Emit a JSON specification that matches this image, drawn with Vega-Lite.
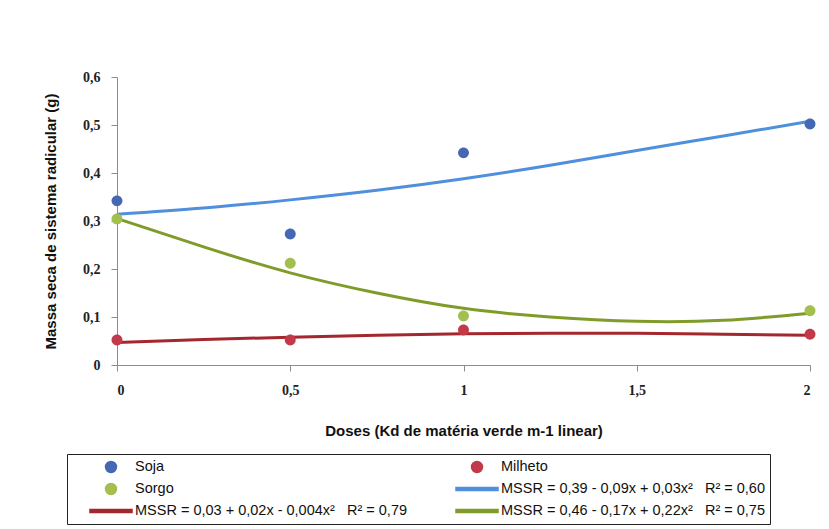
{
  "$schema": "https://vega.github.io/schema/vega-lite/v6.json",
  "width": 693,
  "height": 288,
  "autosize": {"type": "none"},
  "padding": {"left": 117, "top": 77, "right": 19, "bottom": 164},
  "background": "white",
  "config": {
    "view": {"stroke": null},
    "font": "Liberation Sans",
    "axis": {
      "grid": false,
      "domainColor": "#8c8c8c", "tickColor": "#8c8c8c", "tickSize": 6,
      "labelFont": "Liberation Serif", "labelFontWeight": "bold", "labelFontSize": 14, "labelColor": "#222222",
      "titleFont": "Liberation Sans", "titleFontSize": 15, "titleFontWeight": "bold", "titleColor": "#111111"
    },
    "legend": {
      "orient": "none",
      "legendX": -50,
      "legendY": 377,
      "columns": 2,
      "columnPadding": 30,
      "rowPadding": 6,
      "clipHeight": 16,
      "padding": 5,
      "strokeColor": "#222222",
      "fillColor": "white",
      "symbolSize": 1764,
      "symbolOffset": 17,
      "labelOffset": 2,
      "labelFont": "Liberation Sans",
      "labelFontSize": 14.5,
      "labelColor": "#111111",
      "labelLimit": 400,
      "symbolOpacity": 1
    }
  },
  "datasets": {
    "pts": [
      {"dose": 0, "mass": 0.342, "series": "Soja"},
      {"dose": 0.5, "mass": 0.273, "series": "Soja"},
      {"dose": 1, "mass": 0.442, "series": "Soja"},
      {"dose": 2, "mass": 0.502, "series": "Soja"},
      {"dose": 0, "mass": 0.052, "series": "Milheto"},
      {"dose": 0.5, "mass": 0.052, "series": "Milheto"},
      {"dose": 1, "mass": 0.073, "series": "Milheto"},
      {"dose": 2, "mass": 0.064, "series": "Milheto"},
      {"dose": 0, "mass": 0.304, "series": "Sorgo"},
      {"dose": 0.5, "mass": 0.212, "series": "Sorgo"},
      {"dose": 1, "mass": 0.102, "series": "Sorgo"},
      {"dose": 2, "mass": 0.113, "series": "Sorgo"}
    ],
    "curves": [
      {"dose": 0, "mass": 0.314, "series": "MSSR = 0,39 - 0,09x + 0,03x²\u00a0\u00a0\u00a0R² = 0,60"},
      {"dose": 0.25, "mass": 0.327, "series": "MSSR = 0,39 - 0,09x + 0,03x²\u00a0\u00a0\u00a0R² = 0,60"},
      {"dose": 0.5, "mass": 0.344, "series": "MSSR = 0,39 - 0,09x + 0,03x²\u00a0\u00a0\u00a0R² = 0,60"},
      {"dose": 0.75, "mass": 0.364, "series": "MSSR = 0,39 - 0,09x + 0,03x²\u00a0\u00a0\u00a0R² = 0,60"},
      {"dose": 1, "mass": 0.388, "series": "MSSR = 0,39 - 0,09x + 0,03x²\u00a0\u00a0\u00a0R² = 0,60"},
      {"dose": 1.25, "mass": 0.416, "series": "MSSR = 0,39 - 0,09x + 0,03x²\u00a0\u00a0\u00a0R² = 0,60"},
      {"dose": 1.5, "mass": 0.447, "series": "MSSR = 0,39 - 0,09x + 0,03x²\u00a0\u00a0\u00a0R² = 0,60"},
      {"dose": 1.75, "mass": 0.477, "series": "MSSR = 0,39 - 0,09x + 0,03x²\u00a0\u00a0\u00a0R² = 0,60"},
      {"dose": 2, "mass": 0.508, "series": "MSSR = 0,39 - 0,09x + 0,03x²\u00a0\u00a0\u00a0R² = 0,60"},
      {"dose": 0, "mass": 0.047, "series": "MSSR = 0,03 + 0,02x - 0,004x²\u00a0\u00a0\u00a0R² = 0,79"},
      {"dose": 0.25, "mass": 0.053, "series": "MSSR = 0,03 + 0,02x - 0,004x²\u00a0\u00a0\u00a0R² = 0,79"},
      {"dose": 0.5, "mass": 0.058, "series": "MSSR = 0,03 + 0,02x - 0,004x²\u00a0\u00a0\u00a0R² = 0,79"},
      {"dose": 0.75, "mass": 0.062, "series": "MSSR = 0,03 + 0,02x - 0,004x²\u00a0\u00a0\u00a0R² = 0,79"},
      {"dose": 1, "mass": 0.065, "series": "MSSR = 0,03 + 0,02x - 0,004x²\u00a0\u00a0\u00a0R² = 0,79"},
      {"dose": 1.25, "mass": 0.066, "series": "MSSR = 0,03 + 0,02x - 0,004x²\u00a0\u00a0\u00a0R² = 0,79"},
      {"dose": 1.5, "mass": 0.066, "series": "MSSR = 0,03 + 0,02x - 0,004x²\u00a0\u00a0\u00a0R² = 0,79"},
      {"dose": 1.75, "mass": 0.064, "series": "MSSR = 0,03 + 0,02x - 0,004x²\u00a0\u00a0\u00a0R² = 0,79"},
      {"dose": 2, "mass": 0.062, "series": "MSSR = 0,03 + 0,02x - 0,004x²\u00a0\u00a0\u00a0R² = 0,79"},
      {"dose": 0, "mass": 0.305, "series": "MSSR = 0,46 - 0,17x + 0,22x²\u00a0\u00a0\u00a0R² = 0,75"},
      {"dose": 0.25, "mass": 0.246, "series": "MSSR = 0,46 - 0,17x + 0,22x²\u00a0\u00a0\u00a0R² = 0,75"},
      {"dose": 0.5, "mass": 0.192, "series": "MSSR = 0,46 - 0,17x + 0,22x²\u00a0\u00a0\u00a0R² = 0,75"},
      {"dose": 0.75, "mass": 0.150, "series": "MSSR = 0,46 - 0,17x + 0,22x²\u00a0\u00a0\u00a0R² = 0,75"},
      {"dose": 1, "mass": 0.118, "series": "MSSR = 0,46 - 0,17x + 0,22x²\u00a0\u00a0\u00a0R² = 0,75"},
      {"dose": 1.25, "mass": 0.100, "series": "MSSR = 0,46 - 0,17x + 0,22x²\u00a0\u00a0\u00a0R² = 0,75"},
      {"dose": 1.5, "mass": 0.091, "series": "MSSR = 0,46 - 0,17x + 0,22x²\u00a0\u00a0\u00a0R² = 0,75"},
      {"dose": 1.75, "mass": 0.093, "series": "MSSR = 0,46 - 0,17x + 0,22x²\u00a0\u00a0\u00a0R² = 0,75"},
      {"dose": 2, "mass": 0.108, "series": "MSSR = 0,46 - 0,17x + 0,22x²\u00a0\u00a0\u00a0R² = 0,75"}
    ]
  },
  "layer": [
    {
      "data": {"name": "curves"},
      "mark": {"type": "line", "interpolate": "natural", "strokeWidth": 3},
      "encoding": {
        "x": {
          "field": "dose", "type": "quantitative",
          "scale": {"domain": [0, 2], "nice": false, "zero": false},
          "axis": {
            "title": "Doses (Kd de matéria verde m-1 linear)",
            "orient": "bottom",
            "values": [0, 0.5, 1, 1.5, 2],
            "labelExpr": "replace(format(datum.value, '~g'), '.', ',')",
            "labelPadding": 12,
            "titlePadding": 26
          }
        },
        "y": {
          "field": "mass", "type": "quantitative",
          "scale": {"domain": [0, 0.6], "nice": false},
          "axis": {
            "title": "Massa seca de sistema radicular (g)",
            "orient": "left",
            "values": [0, 0.1, 0.2, 0.3, 0.4, 0.5, 0.6],
            "labelExpr": "replace(format(datum.value, '~g'), '.', ',')",
            "labelPadding": 11,
            "titlePadding": 24
          }
        },
        "color": {
          "field": "series", "type": "nominal",
          "title": null,
          "scale": {
            "domain": ["Soja", "Sorgo", "MSSR = 0,03 + 0,02x - 0,004x²\u00a0\u00a0\u00a0R² = 0,79", "Milheto", "MSSR = 0,39 - 0,09x + 0,03x²\u00a0\u00a0\u00a0R² = 0,60", "MSSR = 0,46 - 0,17x + 0,22x²\u00a0\u00a0\u00a0R² = 0,75"],
            "range": ["#4468b4", "#a3bf4e", "#a3272d", "#c23a4a", "#4f8fdb", "#7f9b2a"]
          }
        }
      }
    },
    {
      "data": {"name": "pts"},
      "mark": {"type": "point", "filled": true, "opacity": 1, "size": 1764},
      "encoding": {
        "x": {"field": "dose", "type": "quantitative"},
        "y": {"field": "mass", "type": "quantitative"},
        "color": {
          "field": "series", "type": "nominal",
          "title": null
        },
        "shape": {
          "field": "series", "type": "nominal",
          "title": null,
          "scale": {
            "domain": ["Soja", "Sorgo", "MSSR = 0,03 + 0,02x - 0,004x²\u00a0\u00a0\u00a0R² = 0,79", "Milheto", "MSSR = 0,39 - 0,09x + 0,03x²\u00a0\u00a0\u00a0R² = 0,60", "MSSR = 0,46 - 0,17x + 0,22x²\u00a0\u00a0\u00a0R² = 0,75"],
            "range": [
              "M0,-0.26A0.26,0.26,0,1,1,0,0.26A0.26,0.26,0,1,1,0,-0.26Z",
              "M0,-0.26A0.26,0.26,0,1,1,0,0.26A0.26,0.26,0,1,1,0,-0.26Z",
              "M-1,-0.071H1V0.071H-1Z",
              "M0,-0.26A0.26,0.26,0,1,1,0,0.26A0.26,0.26,0,1,1,0,-0.26Z",
              "M-1,-0.071H1V0.071H-1Z",
              "M-1,-0.071H1V0.071H-1Z"
            ]
          }
        }
      }
    }
  ]
}
